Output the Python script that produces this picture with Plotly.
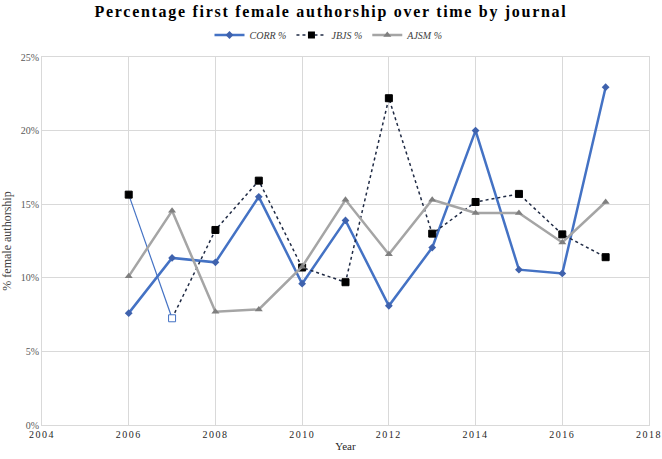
import plotly.graph_objects as go

years = [2006, 2007, 2008, 2009, 2010, 2011, 2012, 2013, 2014, 2015, 2016, 2017]
corr = [7.6, 11.35, 11.05, 15.5, 9.6, 13.9, 8.1, 12.05, 20.0, 10.55, 10.3, 22.95]
jbjs = [15.65, 7.25, 13.25, 16.6, 10.7, 9.7, 22.2, 13.0, 15.15, 15.7, 12.95, 11.4]
ajsm = [10.1, 14.55, 7.7, 7.85, 10.75, 15.3, 11.6, 15.3, 14.4, 14.4, 12.4, 15.15]
x_ticks = [2004, 2006, 2008, 2010, 2012, 2014, 2016, 2018]
x_tick_labels = ["2004", "2006", "2008", "2010", "2012", "2014", "2016", "2018"]

corr = [v / 100 for v in corr]
jbjs = [v / 100 for v in jbjs]
ajsm = [v / 100 for v in ajsm]

FONT = "Liberation Serif"
BLUE = "#4472C4"
GRID = "#d9d9d9"

W, H = 662, 459

fig = go.Figure()

fig.add_trace(go.Scatter(
    x=years, y=corr, name="CORR %", mode="lines+markers",
    line=dict(color=BLUE, width=2.5),
    marker=dict(symbol="diamond", size=6, color="#3f62ad"),
))

# JBJS: first segment styled as thin solid blue (as in the reference)
fig.add_trace(go.Scatter(
    x=years[:2], y=jbjs[:2], mode="lines", showlegend=False,
    line=dict(color=BLUE, width=1.2), hoverinfo="skip",
))
fig.add_trace(go.Scatter(
    x=years[1:], y=jbjs[1:], mode="lines", showlegend=False,
    line=dict(color="#1f2a44", width=1.5, dash="dot"), hoverinfo="skip",
))
m_colors = ["black"] * len(years)
m_colors[1] = "white"
m_lines = ["black"] * len(years)
m_lines[1] = BLUE
fig.add_trace(go.Scatter(
    x=years, y=jbjs, mode="markers", showlegend=False, name="JBJS %",
    marker=dict(symbol="square", size=7, color=m_colors,
                line=dict(color=m_lines, width=1)),
))
fig.add_trace(go.Scatter(
    x=[None], y=[None], name="JBJS %", mode="lines+markers",
    line=dict(color="#1f2a44", width=1.5, dash="dot"),
    marker=dict(symbol="square", size=7, color="black"),
))

fig.add_trace(go.Scatter(
    x=years, y=ajsm, name="AJSM %", mode="lines+markers",
    line=dict(color="#a5a5a5", width=2.5),
    marker=dict(symbol="triangle-up", size=7, color="#7f7f7f"),
))

fig.update_layout(
    width=W, height=H,
    margin=dict(l=42, r=13, t=57, b=34, autoexpand=False),
    paper_bgcolor="white", plot_bgcolor="white",
    hovermode=False,
    font=dict(family=FONT, color="#404040", size=9),
    title=dict(text="<b>Percentage first female authorship over time by journal</b>",
               x=331 / W, xref="container", xanchor="center",
               y=1 - 11 / H, yref="container", yanchor="middle",
               font=dict(family=FONT, size=16, color="black")),
    legend=dict(orientation="h", x=329 / W, xref="container", xanchor="center",
                y=1 - 35 / H, yref="container", yanchor="middle",
                font=dict(family=FONT, size=10, color="#404040", style="italic"),
                traceorder="normal", itemwidth=30, tracegroupgap=0),
    showlegend=True,
)

fig.update_xaxes(
    range=[2004, 2018], tickmode="array", tickvals=x_ticks, ticktext=x_tick_labels,
    showgrid=True, gridcolor=GRID, gridwidth=1,
    showline=True, linecolor=GRID, mirror=True, zeroline=False,
    ticks="", tickfont=dict(family=FONT, size=10, color="#262626"),
    title=dict(text="Year", font=dict(family=FONT, size=11, color="#262626"), standoff=3),
)
fig.update_yaxes(
    range=[0, 0.25], dtick=0.05, tickformat=".0%",
    showgrid=True, gridcolor=GRID, gridwidth=1,
    showline=True, linecolor=GRID, mirror=True, zeroline=False,
    ticks="", tickfont=dict(family=FONT, size=10, color="#595959"),
    title=dict(text="% female authorship", font=dict(family=FONT, size=12, color="#404040"), standoff=7),
)

css_js = (
    "var s=document.createElement('style');"
    "s.textContent='body{margin:0;overflow:hidden}"
    ".gtitle{letter-spacing:1.7px}"
    ".xtick text{letter-spacing:1.5px}';"
    "document.head.appendChild(s);"
)
fig.write_html("out.html", post_script=css_js,
               config={"displayModeBar": False, "staticPlot": True})
